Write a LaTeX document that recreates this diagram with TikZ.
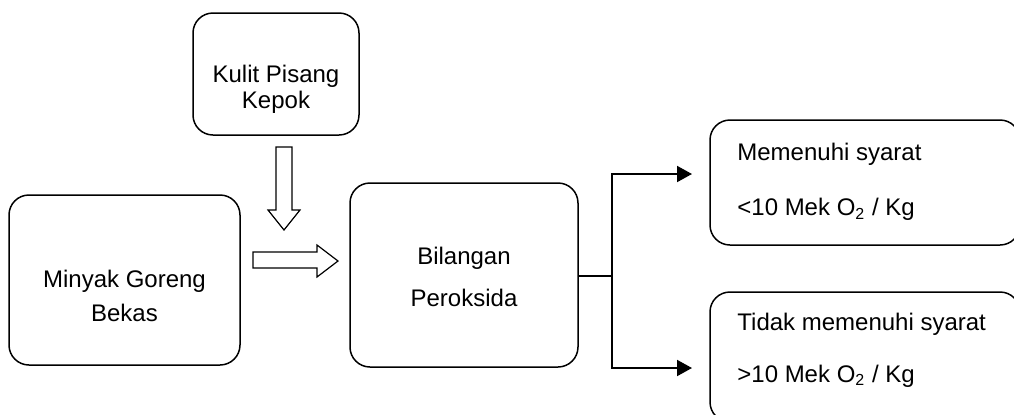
\documentclass[tikz,border=0pt]{standalone}
\usepackage{fontspec}
\setmainfont{Liberation Sans}
\usetikzlibrary{arrows.meta}

\tikzset{
  box/.style={draw,shape=rectangle,rounded corners=10pt,line width=0.75pt},
  txt/.style={inner sep=0pt,align=center},
  sidetxt/.style={inner sep=0pt,align=left,anchor=west},
  hollow/.style={draw,line width=0.6pt,fill=white},
  fork/.style={line width=1pt,-{Triangle[length=7.5pt,width=8pt]}}
}

\begin{document}
\begin{tikzpicture}[x=0.5pt,y=-0.5pt,font=\fontsize{12}{13}\selectfont]
   \clip (0,0) rectangle (1014,414);
   % boxes
   \path (276,74) node[box,minimum width=83pt,minimum height=61pt] (kulit) {};
   \path (124.5,280) node[box,minimum width=115.5pt,minimum height=85pt] (minyak) {};
   \path (464,275) node[box,minimum width=114pt,minimum height=92pt] (bilangan) {};
   \path (865,182.5) node[box,minimum width=155pt,minimum height=62.5pt] (memenuhi) {};
   \path (865,357) node[box,minimum width=155pt,minimum height=65pt] (tidak) {};
   % texts
   \path (kulit.center) ++(0,15) node[txt] (kulitText) {Kulit Pisang\\Kepok};
   \path (minyak.center) ++(0,16) node[txt] (minyakText) {Minyak Goreng\\[4pt]Bekas};
   \path (bilangan.center) ++(0,2) node[txt] (bilanganText) {Bilangan\\[8pt]Peroksida};
   \path (737,182) node[sidetxt] (memenuhiText)
   {Memenuhi syarat\\[14.5pt]<10 Mek O\textsubscript{2} / Kg};
   \path (737,350) node[sidetxt] (tidakText)
   {Tidak memenuhi syarat\\[13pt]>10 Mek O\textsubscript{2} / Kg};
   % hollow arrows
   \draw[hollow] (276,147) -- (292,147) -- (292,210) -- (300,210) -- (284,230)
     -- (268,210) -- (276,210) -- cycle;
   \draw[hollow] (253,252) -- (317,252) -- (317,245) -- (338,261) -- (317,277)
     -- (317,268) -- (253,268) -- cycle;
   % fork
   \coordinate (split) at (612,276);
   \coordinate (tipA) at (692,174);
   \coordinate (tipB) at (692,368);
   \draw[line width=1pt] (bilangan.east |- split) -- (split);
   \draw[fork] (split) |- (tipA);
   \draw[fork] (split) |- (tipB);
\end{tikzpicture}
\end{document}
